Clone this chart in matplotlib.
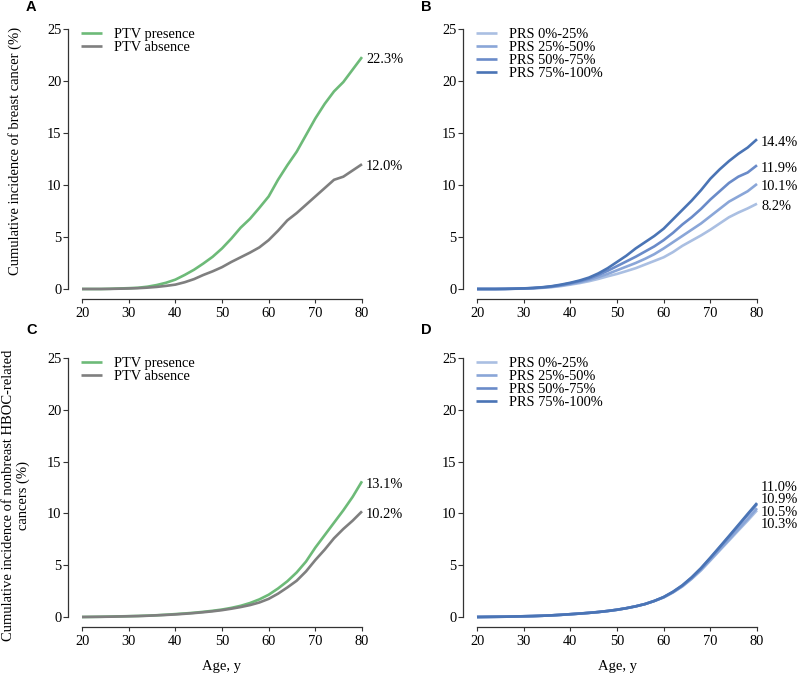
import numpy as np
import matplotlib
matplotlib.use('Agg')
import matplotlib.pyplot as plt

plt.rcParams['font.family'] = ['Liberation Serif', 'DejaVu Serif']

# Idade (anos) - pontos a cada 2 anos
ages = list(range(20, 81, 2))

# --- Painel A: câncer de mama por PTV ---
ptv_presence_breast = [0, 0, 0, 0.02, 0.05, 0.08, 0.12, 0.22, 0.38, 0.6, 0.9, 1.35, 1.85, 2.45, 3.1, 3.9,
                       4.85, 5.9, 6.75, 7.8, 8.9, 10.5, 11.9, 13.2, 14.8, 16.4, 17.8, 19.0, 19.9, 21.1, 22.3]
ptv_absence_breast = [0, 0, 0, 0.01, 0.03, 0.05, 0.08, 0.13, 0.2, 0.3, 0.42, 0.65, 0.95, 1.35, 1.7, 2.1,
                      2.6, 3.05, 3.5, 4.0, 4.7, 5.6, 6.6, 7.3, 8.1, 8.9, 9.7, 10.5, 10.8, 11.4, 12.0]
ptv_labels = ['PTV presence', 'PTV absence']
ptv_end_breast = ['22.3%', '12.0%']

# --- Painel B: câncer de mama por quartil de PRS ---
prs_q1_breast = [0, 0, 0, 0.01, 0.02, 0.04, 0.07, 0.11, 0.18, 0.28, 0.42, 0.57, 0.75, 0.97, 1.22, 1.45,
                 1.72, 2.0, 2.35, 2.7, 3.05, 3.55, 4.15, 4.65, 5.15, 5.7, 6.3, 6.9, 7.35, 7.75, 8.2]
prs_q2_breast = [0, 0, 0, 0.01, 0.03, 0.05, 0.08, 0.13, 0.21, 0.33, 0.48, 0.65, 0.87, 1.15, 1.45, 1.8,
                 2.15, 2.5, 2.9, 3.35, 3.9, 4.5, 5.1, 5.7, 6.3, 7.0, 7.7, 8.4, 8.9, 9.4, 10.1]
prs_q3_breast = [0, 0, 0, 0.01, 0.03, 0.05, 0.09, 0.15, 0.24, 0.38, 0.55, 0.75, 1.0, 1.35, 1.75, 2.2,
                 2.65, 3.1, 3.6, 4.1, 4.7, 5.4, 6.2, 6.9, 7.7, 8.6, 9.4, 10.2, 10.8, 11.2, 11.9]
prs_q4_breast = [0, 0, 0, 0.01, 0.03, 0.06, 0.1, 0.17, 0.27, 0.42, 0.6, 0.82, 1.1, 1.5, 2.0, 2.6,
                 3.2, 3.9, 4.5, 5.1, 5.8, 6.7, 7.6, 8.5, 9.5, 10.6, 11.5, 12.3, 13.0, 13.6, 14.4]
prs_labels = ['PRS 0%-25%', 'PRS 25%-50%', 'PRS 50%-75%', 'PRS 75%-100%']
prs_end_breast = ['8.2%', '10.1%', '11.9%', '14.4%']

# --- Painel C: outros cânceres HBOC por PTV ---
ptv_presence_other = [0, 0.01, 0.02, 0.04, 0.06, 0.08, 0.1, 0.13, 0.17, 0.22, 0.28, 0.34, 0.41, 0.5, 0.6, 0.72,
                      0.88, 1.08, 1.35, 1.7, 2.15, 2.75, 3.45, 4.3, 5.35, 6.7, 7.9, 9.1, 10.3, 11.6, 13.1]
ptv_absence_other = [0, 0.01, 0.02, 0.03, 0.05, 0.07, 0.09, 0.12, 0.16, 0.2, 0.25, 0.31, 0.38, 0.46, 0.55, 0.66,
                     0.8, 0.96, 1.15, 1.4, 1.75, 2.25, 2.85, 3.5, 4.4, 5.5, 6.5, 7.6, 8.5, 9.3, 10.2]
ptv_end_other = ['13.1%', '10.2%']

# --- Painel D: outros cânceres HBOC por quartil de PRS ---
prs_q1_other = [0, 0.01, 0.02, 0.03, 0.05, 0.07, 0.09, 0.12, 0.16, 0.21, 0.27, 0.33, 0.4, 0.48, 0.58, 0.7,
                0.85, 1.03, 1.25, 1.55, 1.88, 2.37, 2.95, 3.68, 4.5, 5.45, 6.42, 7.38, 8.35, 9.3, 10.3]
prs_q2_other = [0, 0.01, 0.02, 0.03, 0.05, 0.07, 0.09, 0.12, 0.16, 0.21, 0.27, 0.33, 0.4, 0.48, 0.58, 0.7,
                0.85, 1.03, 1.25, 1.55, 1.9, 2.38, 2.97, 3.7, 4.55, 5.52, 6.5, 7.48, 8.47, 9.45, 10.5]
prs_q3_other = [0, 0.01, 0.02, 0.03, 0.05, 0.07, 0.09, 0.12, 0.16, 0.21, 0.27, 0.33, 0.4, 0.48, 0.58, 0.7,
                0.85, 1.03, 1.25, 1.55, 1.92, 2.42, 3.03, 3.8, 4.68, 5.68, 6.7, 7.75, 8.8, 9.85, 10.9]
prs_q4_other = [0, 0.01, 0.02, 0.03, 0.05, 0.07, 0.09, 0.12, 0.16, 0.21, 0.27, 0.33, 0.4, 0.48, 0.58, 0.7,
                0.85, 1.03, 1.25, 1.55, 1.93, 2.44, 3.06, 3.83, 4.72, 5.73, 6.77, 7.82, 8.88, 9.95, 11.0]
prs_end_other = ['10.3%', '10.5%', '10.9%', '11.0%']

ptv_colors = ['#6dba78', '#7f7f7f']
prs_colors = ['#aabfe2', '#8aa6d8', '#6a8bc9', '#4a74b5']

FS = 10.4       # ticks, legenda, rótulos finais
FS_LAB = 10.5   # títulos dos eixos
W, H = 798, 674

fig = plt.figure(figsize=(W / 100, H / 100), dpi=100)


def make_ax(x0, y_top, y_zero):
    # posição em pixels: x0 = idade 20, largura até idade 80; y_top = 25%, y_zero = 0%
    ax = fig.add_axes([x0 / W, 1 - y_zero / H, 280 / W, (y_zero - y_top) / H])
    ax.set_xlim(20, 80)
    ax.set_ylim(0, 25)
    ax.set_xticks([20, 30, 40, 50, 60, 70, 80])
    ax.set_yticks([0, 5, 10, 15, 20, 25])
    for s in ['top', 'right']:
        ax.spines[s].set_visible(False)
    ax.spines['left'].set_position(('outward', 10))
    ax.spines['bottom'].set_position(('outward', 7.5))
    for s in ['left', 'bottom']:
        ax.spines[s].set_color('#333333')
        ax.spines[s].set_linewidth(0.9)
    ax.tick_params(axis='x', length=3.2, pad=2.5, labelsize=FS, color='#333333')
    ax.tick_params(axis='y', length=3.5, pad=1.5, labelsize=FS, color='#333333')
    ax.patch.set_visible(False)
    return ax


def draw(ax, series, labels, colors, ends, label_pos=None):
    for ys, lab, col in zip(series, labels, colors):
        ax.plot(ages, ys, color=col, lw=1.9, label=lab, clip_on=False, solid_capstyle='butt')
    ax.legend(loc='upper left', bbox_to_anchor=(-0.005, 1.005), frameon=False, fontsize=FS,
              handlelength=1.5, handletextpad=0.8, labelspacing=0.0, borderpad=0, borderaxespad=0)
    for i, ys in enumerate(series):
        yv = ys[-1] if label_pos is None else label_pos[i]
        ax.annotate(ends[i], xy=(80, yv), xytext=(3, -2), textcoords='offset points',
                    ha='left', va='center', fontsize=FS, annotation_clip=False)


axA = make_ax(82, 29, 289)
draw(axA, [ptv_presence_breast, ptv_absence_breast], ptv_labels, ptv_colors, ptv_end_breast)
axA.set_ylabel('Cumulative incidence of breast cancer (%)', fontsize=FS_LAB)
axA.yaxis.set_label_coords(-0.215, 0.53)

axB = make_ax(477, 29, 289)
draw(axB, [prs_q1_breast, prs_q2_breast, prs_q3_breast, prs_q4_breast], prs_labels, prs_colors, prs_end_breast)

axC = make_ax(82, 358, 617)
draw(axC, [ptv_presence_other, ptv_absence_other], ptv_labels, ptv_colors, ptv_end_other)
axC.set_ylabel('Cumulative incidence of nonbreast HBOC-related\ncancers (%)', fontsize=FS_LAB,
               linespacing=1.15)
axC.yaxis.set_label_coords(-0.185, 0.47)
axC.set_xlabel('Age, y', fontsize=FS_LAB)
axC.xaxis.set_label_coords(0.5, -0.165)

axD = make_ax(477, 358, 617)
d_series = [prs_q1_other, prs_q2_other, prs_q3_other, prs_q4_other]
# rótulos finais empilhados para não se sobreporem
centro = np.mean([s[-1] for s in d_series]) + 0.3
d_pos = [centro + 1.2 * k for k in (-1.5, -0.5, 0.5, 1.5)]
draw(axD, d_series, prs_labels, prs_colors, prs_end_other, label_pos=d_pos)
axD.set_xlabel('Age, y', fontsize=FS_LAB)
axD.xaxis.set_label_coords(0.5, -0.165)

# Letras dos painéis
for letra, px, py in [('A', 26, 7), ('B', 421, 7), ('C', 26, 330), ('D', 421, 330)]:
    fig.text(px / W, 1 - py / H, letra, fontsize=10.5, fontweight='bold',
             family='Liberation Sans', ha='left', va='center')

plt.savefig('out.png', dpi=100)
plt.close(fig)
